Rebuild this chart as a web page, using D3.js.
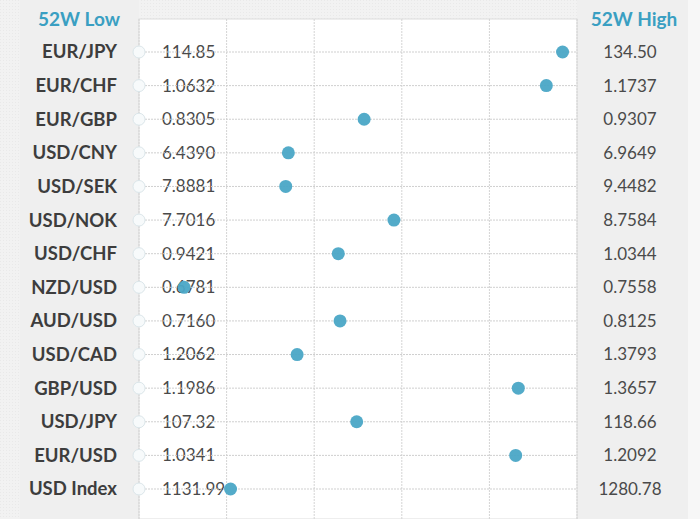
<!DOCTYPE html>
<html><head><meta charset="utf-8">
<script src="https://cdn.jsdelivr.net/npm/d3@7"></script>
<style>html,body{margin:0;padding:0;background:#f3f3f3;}svg{display:block;}</style>
</head><body>
<svg id="c" width="700" height="519"></svg>
<script>
const pairs = ["EUR/JPY","EUR/CHF","EUR/GBP","USD/CNY","USD/SEK","USD/NOK","USD/CHF","NZD/USD","AUD/USD","USD/CAD","GBP/USD","USD/JPY","EUR/USD","USD Index"];
const lows = ["114.85","1.0632","0.8305","6.4390","7.8881","7.7016","0.9421","0.6781","0.7160","1.2062","1.1986","107.32","1.0341","1131.99"];
const highs = ["134.50","1.1737","0.9307","6.9649","9.4482","8.7584","1.0344","0.7558","0.8125","1.3793","1.3657","118.66","1.2092","1280.78"];
// position of current price within 52-week range, percent
const position = [96.7,93.0,51.4,34.1,33.5,58.2,45.5,10.3,45.9,36.1,86.6,49.7,86.0,20.9];
const gridTicks = [0,20,40,60,80,100];

const svg = d3.select("#c");
const W=700,H=519;
const font = "Lato, 'Open Sans', sans-serif";

const defs = svg.append("defs");
const pat = defs.append("pattern").attr("id","dots").attr("width",3).attr("height",3).attr("patternUnits","userSpaceOnUse");
pat.append("rect").attr("width",3).attr("height",3).attr("fill","#f2f2f2");
pat.append("rect").attr("width",1).attr("height",1).attr("fill","#e9e9e9");
svg.append("rect").attr("width",W).attr("height",H).attr("fill","url(#dots)");

const x = d3.scaleLinear().domain([0,100]).range([139,577]);
const y = d3.scalePoint().domain(pairs).range([52,489]);

svg.append("rect").attr("x",20).attr("y",0).attr("width",119).attr("height",H).attr("fill","#efefef");
svg.append("rect").attr("x",577).attr("y",0).attr("width",111).attr("height",H).attr("fill","#efefef");
svg.append("rect").attr("x",688).attr("y",0).attr("width",12).attr("height",H).attr("fill","#f7f7f7");
svg.append("rect").attr("x",x(0)).attr("y",19).attr("width",x(100)-x(0)).attr("height",H-19).attr("fill","#ffffff").attr("stroke","#dcdcdc");

// low values (drawn under the gridlines)
svg.append("g").selectAll("text").data(lows).join("text")
  .attr("x",162).attr("y",(d,i)=>y(pairs[i])).attr("dy","0.35em")
  .attr("font-family",font).attr("font-size",17).attr("fill","#4a4a4a").text(d=>d);

svg.append("g").selectAll("line").data(gridTicks).join("line")
  .attr("x1",d=>x(d)).attr("x2",d=>x(d)).attr("y1",19).attr("y2",H)
  .attr("stroke","#d4d4d4").attr("stroke-dasharray","2,1");
svg.append("g").selectAll("line").data(pairs).join("line")
  .attr("x1",x(0)).attr("x2",x(100)).attr("y1",d=>y(d)).attr("y2",d=>y(d))
  .attr("stroke","#cfcfcf").attr("stroke-dasharray","2,1");

svg.append("text").attr("x",79).attr("y",26).attr("text-anchor","middle")
  .attr("font-family",font).attr("font-weight","bold").attr("font-size",19).attr("fill","#3a9fc2").text("52W Low");
svg.append("text").attr("x",634).attr("y",26).attr("text-anchor","middle")
  .attr("font-family",font).attr("font-weight","bold").attr("font-size",19).attr("fill","#3a9fc2").text("52W High");

svg.append("g").selectAll("text").data(pairs).join("text")
  .attr("x",117).attr("y",d=>y(d)).attr("dy","0.35em").attr("text-anchor","end")
  .attr("font-family",font).attr("font-weight","bold").attr("font-size",18.5).attr("fill","#3d3d3d").text(d=>d);

svg.append("g").selectAll("circle").data(pairs).join("circle")
  .attr("cx",x(0)).attr("cy",d=>y(d)).attr("r",6)
  .attr("fill","#f7fafb").attr("stroke","#dbe6ea").attr("stroke-width",1);

svg.append("g").selectAll("text").data(highs).join("text")
  .attr("x",630).attr("y",(d,i)=>y(pairs[i])).attr("dy","0.35em").attr("text-anchor","middle")
  .attr("font-family",font).attr("font-size",17).attr("fill","#4a4a4a").text(d=>d);

svg.append("g").selectAll("circle").data(position).join("circle")
  .attr("cx",d=>x(d)).attr("cy",(d,i)=>y(pairs[i])).attr("r",6.5)
  .attr("fill","#4aa6c6").attr("opacity",0.95);
</script>
</body></html>
